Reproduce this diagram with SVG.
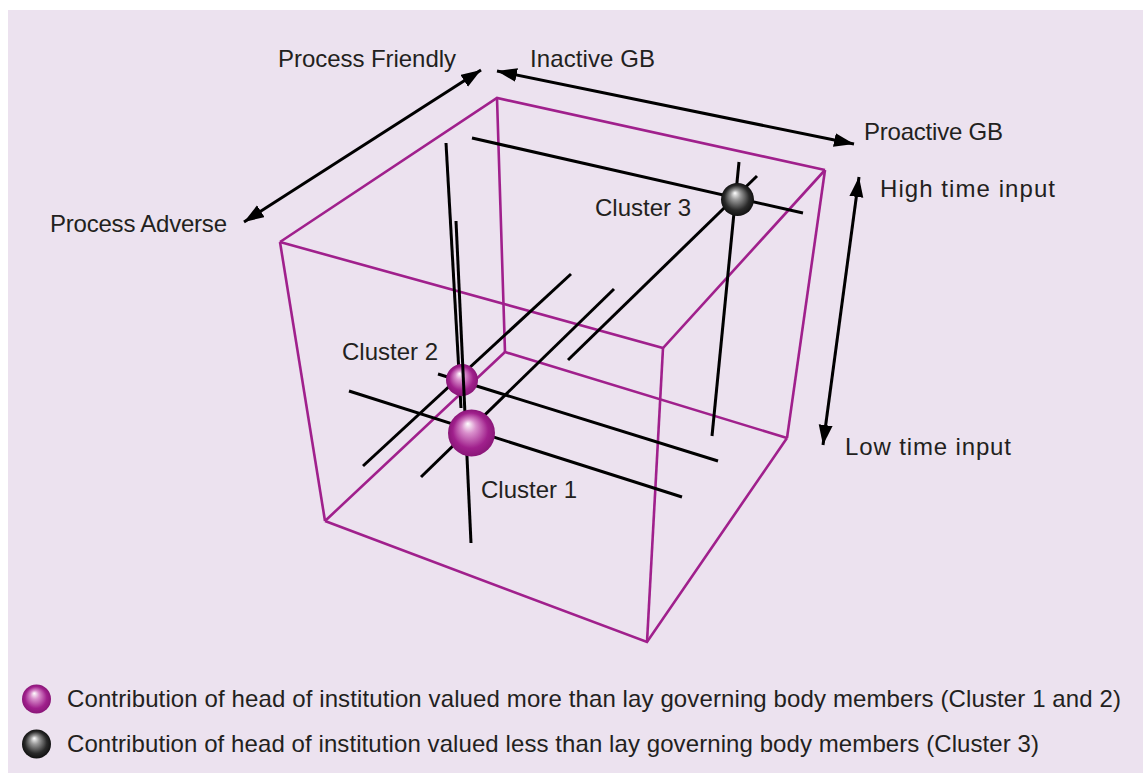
<svg xmlns="http://www.w3.org/2000/svg" width="1143" height="773" viewBox="0 0 1143 773">
<style>
.bg{fill:#ffffff}
.panel{fill:#ece2ef}
.edge{stroke:#a0208c;stroke-width:2.6;fill:none;stroke-linejoin:miter}
.axis{stroke:#000;stroke-width:3;fill:none}
.arr{stroke:#000;stroke-width:3;fill:none;marker-start:url(#ah);marker-end:url(#ah)}
text{font-family:"Liberation Sans",Arial,sans-serif;font-size:24px;fill:#231f20}
</style>
<defs>
<marker id="ah" markerUnits="userSpaceOnUse" markerWidth="22" markerHeight="16" refX="20" refY="7" orient="auto-start-reverse" viewBox="0 0 22 16">
<path d="M0,0 L20,7 L0,14 z" fill="#000"/>
</marker>
<radialGradient id="gp" cx="0.5" cy="0.5" r="0.5" fx="0.42" fy="0.3">
<stop offset="0" stop-color="#ffffff"/>
<stop offset="0.3" stop-color="#d98fcc"/>
<stop offset="0.75" stop-color="#a0208c"/>
<stop offset="1" stop-color="#8a1678"/>
</radialGradient>
<radialGradient id="gk" cx="0.5" cy="0.5" r="0.5" fx="0.42" fy="0.3">
<stop offset="0" stop-color="#ffffff"/>
<stop offset="0.3" stop-color="#9a9a9a"/>
<stop offset="0.75" stop-color="#2a2a2a"/>
<stop offset="1" stop-color="#111111"/>
</radialGradient>
</defs>
<rect class="bg" x="0" y="0" width="1143" height="773"/>
<rect class="panel" x="8" y="10" width="1135" height="763"/>

<g id="cube">
<polyline class="edge" points="280,242 497,98 825,170"/>
<line class="edge" x1="497" y1="98" x2="505" y2="352"/>
<polyline class="edge" points="325,521 505,352 787,438"/>
<polyline class="edge" points="280,242 663,348 825,170"/>
<line class="edge" x1="280" y1="242" x2="325" y2="521"/>
<line class="edge" x1="663" y1="348" x2="647" y2="642"/>
<line class="edge" x1="825" y1="170" x2="787" y2="438"/>
<polyline class="edge" points="325,521 647,642 787,438"/>
</g>

<g id="connectors">
<line class="arr" x1="481" y1="70" x2="244" y2="222"/>
<line class="arr" x1="497" y1="71" x2="854" y2="144"/>
<line class="arr" x1="859" y1="177" x2="823" y2="445"/>
</g>

<g id="cluster3">
<line class="axis" x1="472" y1="138" x2="803" y2="213"/>
<line class="axis" x1="739" y1="162" x2="712" y2="436"/>
<line class="axis" x1="757" y1="176" x2="568" y2="360"/>
<circle cx="737.5" cy="199.5" r="16.5" fill="url(#gk)"/>
<text x="595" y="216">Cluster 3</text>
</g>

<g id="cluster2">
<line class="axis" x1="446" y1="143" x2="461" y2="408"/>
<line class="axis" x1="438" y1="374" x2="718" y2="461"/>
<line class="axis" x1="571" y1="274" x2="363" y2="466"/>
<circle cx="462" cy="380" r="16" fill="url(#gp)"/>
<text x="342" y="360">Cluster 2</text>
</g>

<g id="cluster1">
<line class="axis" x1="456" y1="221" x2="471" y2="543"/>
<line class="axis" x1="349" y1="391" x2="682" y2="497"/>
<line class="axis" x1="614" y1="289" x2="421" y2="477"/>
<circle cx="471.5" cy="433" r="23.5" fill="url(#gp)"/>
<text x="481" y="498">Cluster 1</text>
</g>

<g id="labels">
<text x="278" y="67" textLength="178">Process Friendly</text>
<text x="530" y="67" textLength="125">Inactive GB</text>
<text x="864" y="140" textLength="139">Proactive GB</text>
<text x="880" y="197" textLength="175">High time input</text>
<text x="50" y="232" textLength="177">Process Adverse</text>
<text x="845" y="455" textLength="166">Low time input</text>
</g>

<g id="legend">
<circle cx="36.5" cy="699" r="14.5" fill="url(#gp)"/>
<text x="67" y="707" textLength="1054">Contribution of head of institution valued more than lay governing body members (Cluster 1 and 2)</text>
<circle cx="36.5" cy="744" r="14.5" fill="url(#gk)"/>
<text x="67" y="752" textLength="972">Contribution of head of institution valued less than lay governing body members (Cluster 3)</text>
</g>
</svg>
